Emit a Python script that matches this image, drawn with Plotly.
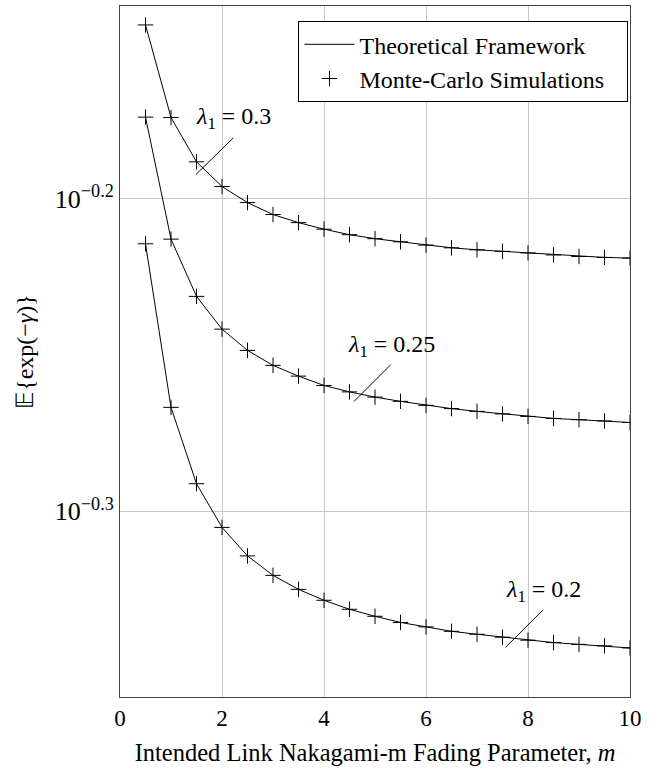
import math
import plotly.graph_objects as go

# ---- data ----
m_vals = [0.5, 1, 1.5, 2, 2.5, 3, 3.5, 4, 4.5, 5, 5.5, 6, 6.5, 7, 7.5, 8, 8.5, 9, 9.5, 10]

lam_03 = [0.7172, 0.6699, 0.6484, 0.6367, 0.6292, 0.6237, 0.6200, 0.6170, 0.6145, 0.6127,
          0.6113, 0.6098, 0.6086, 0.6077, 0.6070, 0.6063, 0.6054, 0.6047, 0.6043, 0.6040]
lam_025 = [0.6701, 0.6125, 0.5872, 0.5732, 0.5643, 0.5581, 0.5537, 0.5499, 0.5473, 0.5452,
           0.5435, 0.5419, 0.5406, 0.5395, 0.5385, 0.5375, 0.5367, 0.5362, 0.5357, 0.5351]
lam_02 = [0.6104, 0.5411, 0.5115, 0.4953, 0.4850, 0.4781, 0.4732, 0.4694, 0.4663, 0.4639,
          0.4618, 0.4603, 0.4588, 0.4578, 0.4568, 0.4558, 0.4550, 0.4544, 0.4539, 0.4532]

series = [lam_03, lam_025, lam_02]

x_ticks = [0, 2, 4, 6, 8, 10]
y_tickvals = [10 ** -0.3, 10 ** -0.2]
y_ticktext = ["10<sup>−0.3</sup>", "10<sup>−0.2</sup>"]

legend_names = ["Theoretical Framework", "Monte-Carlo Simulations"]

# labels: text, text position (x, y), pointer line (x0, y0, x1, y1)
label_text = ["<i>λ</i><sub>1</sub> = 0.3", "<i>λ</i><sub>1</sub> = 0.25", "<i>λ</i><sub>1</sub> = 0.2"]
label_pos = [(2.22, 0.6696), (5.33, 0.5660), (8.30, 0.4725)]
label_line = [(1.49, 0.6424, 2.22, 0.6599), (4.59, 0.5435, 5.31, 0.5584), (7.56, 0.4534, 8.29, 0.4660)]

FONT = "Liberation Serif"
PAD = "\u00a0" * 3  # right padding inside the legend box

fig = go.Figure()
for i, s in enumerate(series):
    fig.add_trace(go.Scatter(x=m_vals, y=s, mode="lines", line=dict(color="black", width=1),
                             name=legend_names[0] + PAD, showlegend=(i == 0), legendrank=1))
for i, s in enumerate(series):
    fig.add_trace(go.Scatter(x=m_vals, y=s, mode="markers",
                             marker=dict(symbol="cross-thin", size=11, color="black",
                                         line=dict(color="black", width=1)),
                             name=legend_names[1] + PAD, showlegend=(i == 0), legendrank=2))

for t, (tx, ty), (x0, y0, x1, y1) in zip(label_text, label_pos, label_line):
    # annotations on a log axis are placed in log10 units
    fig.add_annotation(x=tx, y=math.log10(ty), text=t, showarrow=False,
                       font=dict(size=24, family=FONT, color="black"))
    fig.add_shape(type="line", x0=x0, y0=y0, x1=x1, y1=y1, line=dict(color="black", width=1))

fig.update_layout(
    width=651, height=770,
    margin=dict(l=120, r=21, t=6, b=73),
    paper_bgcolor="white", plot_bgcolor="white",
    font=dict(family=FONT, size=24, color="black"),
    legend=dict(x=0.997, xanchor="right", y=0.978, yanchor="top",
                bordercolor="black", borderwidth=1, bgcolor="white",
                font=dict(size=24, family=FONT), itemwidth=50, tracegroupgap=0),
)
fig.update_xaxes(range=[0, 10], tickvals=x_ticks, showgrid=True, gridcolor="#c8c8c8", gridwidth=1,
                 showline=True, linecolor="#444", linewidth=1, mirror=True, ticks="",
                 zeroline=False, tickfont=dict(size=23),
                 title=dict(text="Intended Link Nakagami-m Fading Parameter, <i>m</i>", standoff=14,
                            font=dict(size=24.5)))
fig.update_yaxes(type="log", range=[-0.3594, -0.1383], tickvals=y_tickvals, ticktext=y_ticktext,
                 showgrid=True, gridcolor="#c8c8c8", gridwidth=1,
                 showline=True, linecolor="#444", linewidth=1, mirror=True, ticks="",
                 zeroline=False, tickfont=dict(size=26),
                 title=dict(text="𝔼{exp(−<i>γ</i>)}", standoff=14, font=dict(size=24)))

fig.write_html("out.html")
